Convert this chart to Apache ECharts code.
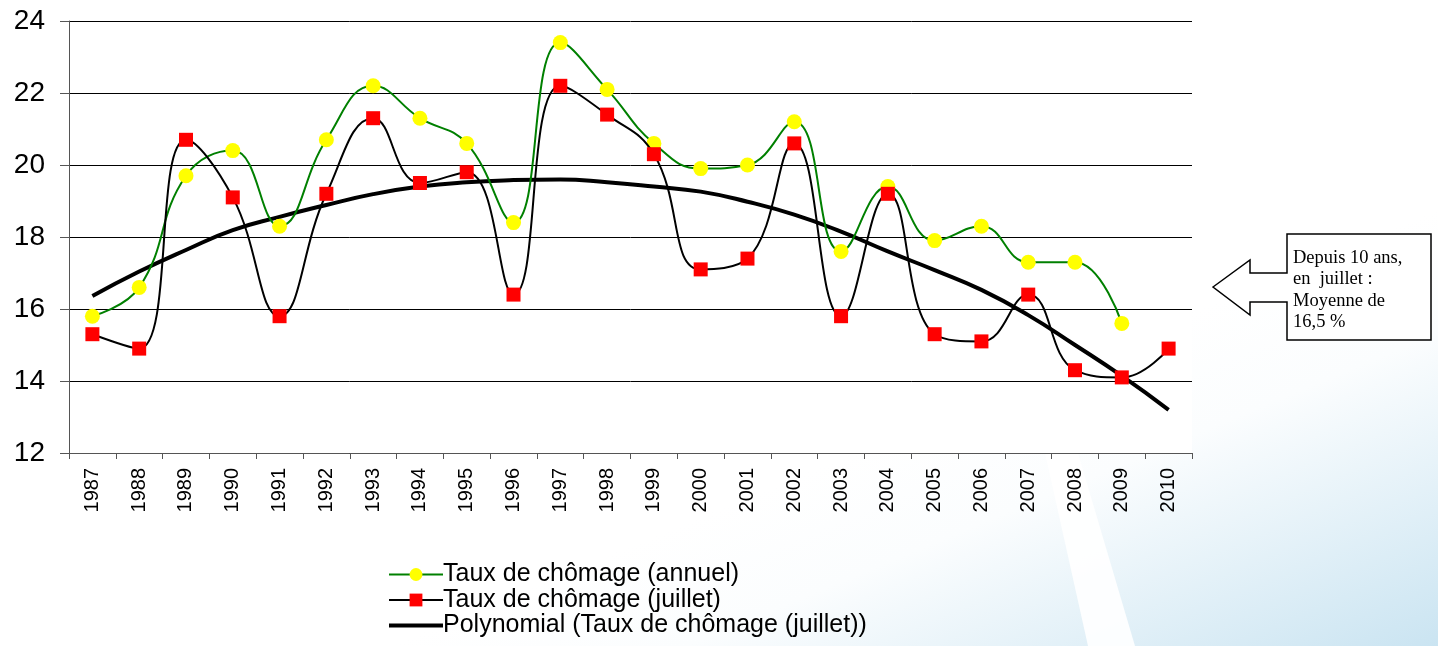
<!DOCTYPE html>
<html>
<head>
<meta charset="utf-8">
<script src="https://cdn.jsdelivr.net/npm/echarts@6/dist/echarts.min.js"></script>
<style>
html,body{margin:0;padding:0;background:#fff;}
#chart{width:1438px;height:646px;}
</style>
</head>
<body>
<div id="chart"></div>
<script>
// ---- data ----
const years = ['1987','1988','1989','1990','1991','1992','1993','1994','1995','1996','1997','1998','1999','2000','2001','2002','2003','2004','2005','2006','2007','2008','2009','2010'];
const annual = [15.8,16.6,19.7,20.4,18.3,20.7,22.2,21.3,20.6,18.4,23.4,22.1,20.6,19.9,20.0,21.2,17.6,19.4,17.9,18.3,17.3,17.3,15.6,null];
const july = [15.3,14.9,20.7,19.1,15.8,19.2,21.3,19.5,19.8,16.4,22.2,21.4,20.3,17.1,17.4,20.6,15.8,19.2,15.3,15.1,16.4,14.3,14.1,14.9];
const trend = [16.36,17.04,17.64,18.19,18.56,18.89,19.19,19.4,19.52,19.58,19.6,19.52,19.4,19.26,18.98,18.62,18.15,17.6,17.08,16.53,15.83,15.0,14.14,13.2];
const seriesNames = ['Taux de chômage (annuel)','Taux de chômage (juillet)','Polynomial (Taux de chômage (juillet))'];
const noteLines = ['Depuis 10 ans,','en  juillet :','Moyenne de','16,5 %'];

const FONT = 'Arial, "Liberation Sans", sans-serif';
const chart = echarts.init(document.getElementById('chart'), null, {renderer:'canvas'});

chart.setOption({
  animation:false,
  backgroundColor:'#ffffff',
  graphic:[
    {type:'rect', z:-10, silent:true, shape:{x:0,y:0,width:1438,height:646},
     style:{fill:{type:'linear',global:true,x:1100,y:350,x2:1300,y2:830,colorStops:[
       {offset:0,color:'#ffffff'},{offset:0.22,color:'#fbfdfe'},{offset:0.8,color:'#c8e3f1'},{offset:1,color:'#bddcee'}]}}},
    {type:'polygon', z:-9, silent:true, shape:{points:[[1045,453],[1078,453],[1135,646],[1088,646]]},
     style:{fill:'rgba(255,255,255,0.9)'}},
    {type:'polygon', z:10, shape:{points:[[1213,287],[1250,260],[1250,273],[1287,273],[1287,234],[1431,234],[1431,340],[1287,340],[1287,302],[1250,302],[1250,315]]},
     style:{fill:'#ffffff',stroke:'#000000',lineWidth:1.5}},
    {type:'text', z:11, left:1293, top:247,
     style:{text:noteLines.join('\n'), font:'18.5px "Liberation Serif", "Times New Roman", serif', lineHeight:21.5, fill:'#000'}}
  ],
  grid:{left:69,right:246,top:21,bottom:193,show:true,backgroundColor:'#ffffff',borderWidth:0},
  legend:{
    orient:'vertical', left:383, top:557, itemGap:0.5, itemWidth:54, itemHeight:16,
    textStyle:{fontFamily:FONT,fontSize:25,color:'#000',lineHeight:24,padding:[0,0,0,-5]},
    data:[
      {name:seriesNames[0]},
      {name:seriesNames[1]},
      {name:seriesNames[2], icon:'path://M0,0 L54,0 L54,4 L0,4 Z'}
    ]
  },
  xAxis:{
    type:'category', data:years, boundaryGap:true,
    axisLine:{lineStyle:{color:'#555',width:1}},
    axisTick:{show:true,length:6,interval:0,lineStyle:{color:'#555'}},
    axisLabel:{rotate:90,interval:0,margin:15,fontFamily:FONT,fontSize:20,color:'#000'}
  },
  yAxis:{
    type:'value', min:12, max:24, interval:2,
    axisLine:{show:true,lineStyle:{color:'#555',width:1}},
    axisTick:{show:true,length:9,lineStyle:{color:'#555'}},
    splitLine:{lineStyle:{color:'#000',width:1}},
    axisLabel:{margin:24,fontFamily:FONT,fontSize:28,color:'#000',padding:[6,0,0,0]}
  },
  series:[
    {name:seriesNames[0], type:'line', data:annual, smooth:0.45, connectNulls:false,
     symbol:'circle', symbolSize:15,
     lineStyle:{color:'#008000',width:2}, itemStyle:{color:'#ffff00',borderWidth:0}, z:3},
    {name:seriesNames[1], type:'line', data:july, smooth:0.45,
     symbol:'rect', symbolSize:14,
     lineStyle:{color:'#000000',width:2}, itemStyle:{color:'#ff0000',borderWidth:0}, z:4},
    {name:seriesNames[2], type:'line', data:trend, smooth:0.5,
     symbol:'none', showSymbol:false,
     lineStyle:{color:'#000000',width:4}, itemStyle:{color:'#000000'}, z:2}
  ]
});
</script>
</body>
</html>
